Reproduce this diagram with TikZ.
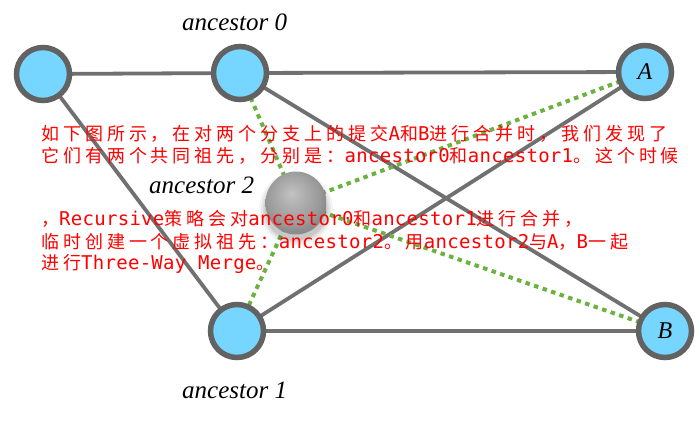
\documentclass[tikz,border=0pt]{standalone}
\usepackage{fontspec}
\usetikzlibrary{backgrounds,shapes.geometric}
\newfontfamily\cjkfont[LetterSpace=22]{Noto Sans CJK SC}
\newfontfamily\monofont[LetterSpace=1.5]{DejaVu Sans Mono}
\newfontfamily\labfont{Liberation Serif}
\newcommand\latinrun[1]{{\monofont\fontsize{19}{19}\selectfont #1}}
\definecolor{nodeblue}{RGB}{118,214,255}
\definecolor{ringgray}{RGB}{98,98,98}
\definecolor{edgegray}{RGB}{112,112,112}
\definecolor{dotgreen}{RGB}{108,178,64}
\definecolor{notered}{RGB}{255,0,0}
\pgfdeclareradialshading{spherefill}{\pgfpoint{-4bp}{8bp}}{color(0bp)=(black!24); color(12bp)=(black!33); color(22bp)=(black!40); color(26bp)=(black!45); color(50bp)=(black!45)}
\begin{document}
\begin{tikzpicture}[x=1pt,y=-1pt,
  commit/.style={circle, draw=ringgray, line width=5.5pt, fill=nodeblue, minimum size=53pt, inner sep=0pt, font=\labfont\itshape\fontsize{24}{24}\selectfont},
  link/.style={draw=edgegray, line width=3.8pt},
  vlink/.style={draw=dotgreen, line width=4pt, dash pattern=on 4.5pt off 4.5pt},
  lbl/.style={anchor=base west, inner sep=0pt, font=\labfont\itshape\fontsize{25}{25}\selectfont},
  note/.style={anchor=base west, inner sep=0pt, text=notered, font=\cjkfont\fontsize{18}{18}\selectfont}]
\useasboundingbox (0,0) rectangle (700,421);
\node[commit] (root) at (43,74) {};
\node[commit] (a0) at (240,73) {};
\node[commit] (A) at (645,72) {A};
\node[commit] (a1) at (237,331) {};
\node[commit] (B) at (665,331) {B};
\node[ellipse, minimum width=61pt, minimum height=63pt, inner sep=0pt, shading=spherefill] (a2) at (296,203) {};
\begin{scope}[on background layer]
  \fill[white] (0,0) rectangle (700,421);
  \draw[link] (root.center) -- (a0.center);
  \draw[link] (a0.center) -- (A.center);
  \draw[link] (a1.center) -- (B.center);
  \draw[link] (root.center) -- (a1.center);
  \draw[link] (a0.center) -- (B.center);
  \draw[link] (a1.center) -- (A.center);
  \draw[vlink] (a0.center) -- (a2.center);
  \draw[vlink] (a2.center) -- (A.center);
  \draw[vlink] (a2.center) -- (B.center);
  \draw[vlink] (a2.center) -- (a1.center);
  \foreach \r/\o in {37/0.04,35/0.05,33/0.06,31.5/0.08}
    \fill[black, opacity=\o] ([shift={(0,6)}]a2.center) circle (\r);
\end{scope}
\node[lbl] (l0) at (182,30) {ancestor 0};
\node[lbl] (l1) at (182,398) {ancestor 1};
\node[lbl] (l2) at (149,193) {ancestor 2};
\node[note] (n1) at (41,140) {如下图所示，在对两个分支上的提交\latinrun{A}和\latinrun{B}进行合并时，我们发现了};
\node[note] (n2) at (41,162) {它们有两个共同祖先，分别是：\latinrun{ancestor0}和\latinrun{ancestor1}。这个时候};
\node[note] (n3) at (41,225) {，\latinrun{Recursive}策略会对\latinrun{ancestor0}和\latinrun{ancestor1}进行合并，};
\node[note] (n4) at (41,248) {临时创建一个虚拟祖先：\latinrun{ancestor2}。用\latinrun{ancestor2}与\latinrun{A}，\latinrun{B}一起};
\node[note] (n5) at (41,269) {进行\latinrun{Three-Way Merge}。};
\end{tikzpicture}
\end{document}
